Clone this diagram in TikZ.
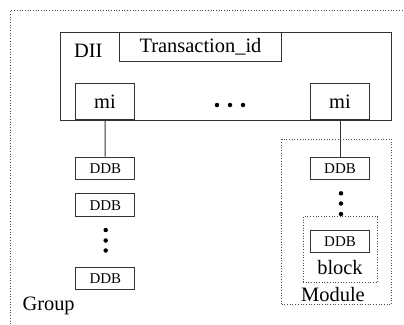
\documentclass[tikz,border=0pt]{standalone}
\usepackage{fontspec}
\setmainfont{Liberation Serif}
\begin{document}
\begin{tikzpicture}[x=1bp,y=-1bp,
  box/.style={draw=black!80,line width=1pt,inner sep=0pt,rectangle},
  area/.style={draw=black!70,dotted,line width=0.7pt,inner sep=0pt,rectangle},
  big/.style={font=\fontsize{20.5}{23}\selectfont},
  small/.style={font=\fontsize{15}{17}\selectfont},
  dot/.style={circle,fill=black,inner sep=0pt,minimum size=4.5bp}]
\useasboundingbox (0,0) rectangle (404,325);
\clip (0,0) rectangle (404,325);
% group frame, running past the page edges
\node[area,anchor=north west,minimum width=420bp,minimum height=340bp] (group) at (10,10) {};
\node[big,anchor=west] (grouplbl) at (19,306) {Group};
% DII with its header field and entries
\node[box,minimum width=331bp,minimum height=87.7bp] (dii) at (226.2,76.2) {};
\node[big,anchor=base west] (diilbl) at (70.5,57.5) {DII};
\node[box,big,minimum width=162.4bp,minimum height=29.4bp] (tid) at (200.5,47) {Transaction\_id};
\node[box,big,minimum width=59.4bp,minimum height=36.3bp] (mil) at (105,101.8) {mi};
\node[box,big,minimum width=58.6bp,minimum height=36.3bp] (mir) at (340,101.8) {mi};
\node[dot] (h1) at (217,105) {};
\node[dot] (h2) at (230,105) {};
\node[dot] (h3) at (243,105) {};
% left chain of DDBs
\node[box,small,minimum width=58.7bp,minimum height=22.3bp] (ddba) at (105.3,168.2) {DDB};
\node[box,small,minimum width=58.7bp,minimum height=23bp] (ddbb) at (105.3,205.2) {DDB};
\node[dot] (va1) at (105.7,230) {};
\node[dot] (va2) at (105.7,240.5) {};
\node[dot] (va3) at (105.7,250.5) {};
\node[box,small,minimum width=58.7bp,minimum height=22bp] (ddbc) at (105.3,278.3) {DDB};
% module on the right
\node[area,minimum width=110bp,minimum height=164.7bp] (module) at (336.7,221.7) {};
\node[big] (modlbl) at (333,295) {Module};
\node[box,small,minimum width=58.6bp,minimum height=22.3bp] (ddbr) at (340,168.2) {DDB};
\node[dot] (vb1) at (341,193.3) {};
\node[dot] (vb2) at (341,203.5) {};
\node[dot] (vb3) at (341,214) {};
\node[area,minimum width=74.7bp,minimum height=65.6bp] (block) at (340.3,249.5) {};
\node[box,small,minimum width=58.6bp,minimum height=21.6bp] (ddbi) at (340,241.5) {DDB};
\node[big] (blocklbl) at (340,267.5) {block};
% links from the entries
\draw[black!80,line width=1pt] (mil) -- (ddba);
\draw[black!80,line width=1pt] (mir) -- (ddbr);
\end{tikzpicture}
\end{document}
